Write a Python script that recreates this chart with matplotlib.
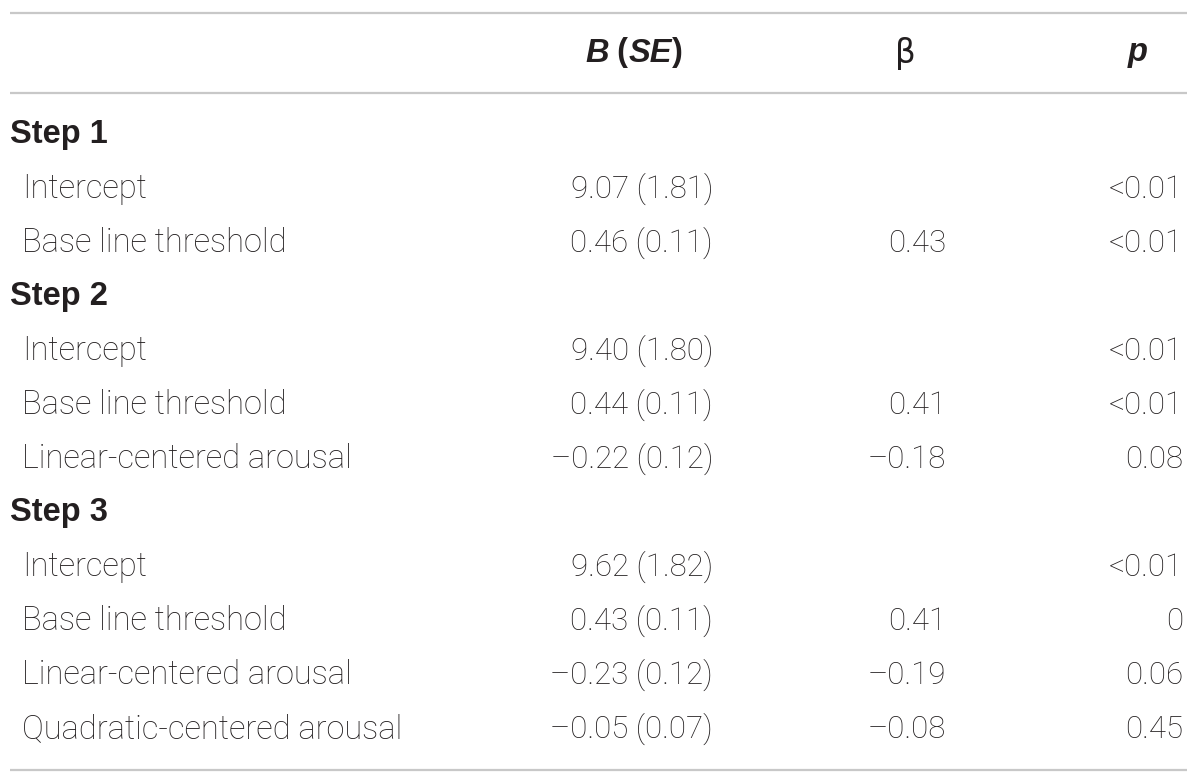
import matplotlib
matplotlib.use('Agg')
import matplotlib.pyplot as plt

# -----------------
# Table data
# -----------------
steps = ['Step 1', 'Step 2', 'Step 3']
row_labels = [
    ['Intercept', 'Base line threshold'],
    ['Intercept', 'Base line threshold', 'Linear-centered arousal'],
    ['Intercept', 'Base line threshold', 'Linear-centered arousal', 'Quadratic-centered arousal'],
]
b_se = [
    ['9.07 (1.81)', '0.46 (0.11)'],
    ['9.40 (1.80)', '0.44 (0.11)', '\u20130.22 (0.12)'],
    ['9.62 (1.82)', '0.43 (0.11)', '\u20130.23 (0.12)', '\u20130.05 (0.07)'],
]
beta = [
    ['', '0.43'],
    ['', '0.41', '\u20130.18'],
    ['', '0.41', '\u20130.19', '\u20130.08'],
]
p_vals = [
    ['<0.01', '<0.01'],
    ['<0.01', '<0.01', '0.08'],
    ['<0.01', '0', '0.06', '0.45'],
]

# -----------------
# Layout (pixel coordinates)
# -----------------
W, H = 1200, 783
fig = plt.figure(figsize=(12, 7.83), dpi=100)
ax = fig.add_axes([0, 0, 1, 1])
ax.set_xlim(0, W)
ax.set_ylim(H, 0)
ax.axis('off')

txt_color = '#231f20'
line_color = '#c8c8c8'
fs = 23.5
num_fs = 22.5
font = 'Roboto'
bold_font = 'Liberation Sans'

# horizontal rules
for y in (13, 93, 770):
    ax.plot([10, 1187], [y, y], color=line_color, lw=1.6, solid_capstyle='butt')

# header "B (SE)" built piece by piece so the italics sit right
renderer = fig.canvas.get_renderer()
x = 585
for piece, st in [('B', 'italic'), (' (', 'normal'), ('SE', 'italic'), (')', 'normal')]:
    t = ax.text(x, 53, piece, ha='left', va='center', fontsize=fs, family=bold_font,
                weight='bold', style=st, color=txt_color)
    bb = t.get_window_extent(renderer)
    x += bb.width
ax.text(905, 53, '\u03b2', ha='center', va='center', fontsize=fs, family='DejaVu Sans',
        color=txt_color)
ax.text(1138, 53, 'p', ha='center', va='center', fontsize=fs, family=bold_font,
        weight='bold', style='italic', color=txt_color)

# body rows
y = 135
row_h = 54
for s, step in enumerate(steps):
    ax.text(10, y, step, ha='left', va='center', fontsize=fs, family=bold_font,
            weight='bold', color=txt_color)
    y += row_h
    for label, b, be, p in zip(row_labels[s], b_se[s], beta[s], p_vals[s]):
        ax.text(22, y, label, ha='left', va='center', fontsize=fs, family=font,
                weight='light', color=txt_color)
        ax.text(713, y, b, ha='right', va='center', fontsize=num_fs, family=font,
                weight='light', color=txt_color)
        ax.text(946, y, be, ha='right', va='center', fontsize=num_fs, family=font,
                weight='light', color=txt_color)
        ax.text(1183, y, p, ha='right', va='center', fontsize=num_fs, family=font,
                weight='light', color=txt_color)
        y += row_h

fig.savefig('out.png', dpi=100, facecolor='white')
